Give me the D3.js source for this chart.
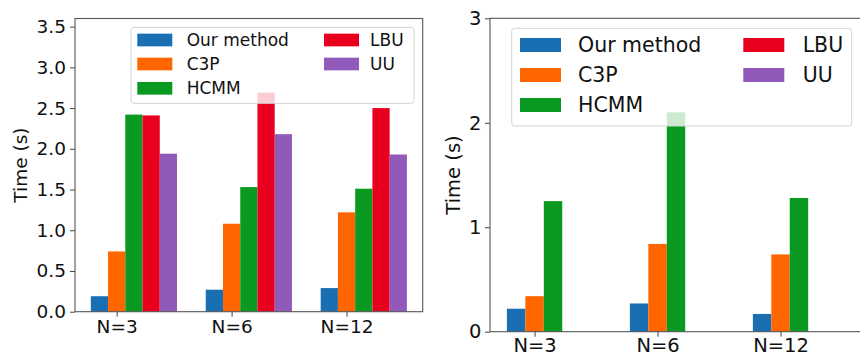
<!DOCTYPE html>
<html>
<head>
<meta charset="utf-8">
<script src="https://cdn.jsdelivr.net/npm/d3@7"></script>
<style>
  html, body { margin: 0; padding: 0; background: #fff; }
  svg { display: block; font-family: "DejaVu Sans", sans-serif; }
</style>
</head>
<body>
<svg id="chart" width="860" height="357"></svg>
<script>
// ---- data ----
const categories = ["N=3", "N=6", "N=12"];
const methods = ["Our method", "C3P", "HCMM", "LBU", "UU"];
const colors = ["#1a6fb3", "#ff6600", "#0a9a22", "#e8001e", "#9159b9"];

// left panel
const leftOur  = [0.19, 0.27, 0.29];
const leftC3P  = [0.74, 1.08, 1.22];
const leftHCMM = [2.42, 1.53, 1.51];
const leftLBU  = [2.41, 2.69, 2.50];
const leftUU   = [1.94, 2.18, 1.93];
const leftYTicks = [0, 0.5, 1.0, 1.5, 2.0, 2.5, 3.0, 3.5];

// right panel
const rightOur  = [0.22, 0.27, 0.17];
const rightC3P  = [0.34, 0.84, 0.74];
const rightHCMM = [1.25, 2.10, 1.28];
const rightLBU  = [0, 0, 0];
const rightUU   = [0, 0, 0];
const rightYTicks = [0, 1, 2, 3];

const svg = d3.select("#chart");
const barW = 0.15;

function panel(cfg) {
  const g = svg.append("g");
  const x = d3.scaleLinear().domain([-0.3625, 2.6625]).range([cfg.x0, cfg.x1]);
  const y = d3.scaleLinear().domain([0, cfg.ymax]).range([cfg.y1, cfg.y0]);

  // bars
  cfg.series.forEach((vals, si) => {
    g.append("g").selectAll("rect").data(vals).join("rect")
      .attr("x", (d, i) => x(i + (si - 1) * barW - barW / 2))
      .attr("width", x(barW) - x(0))
      .attr("y", d => y(d))
      .attr("height", d => y(0) - y(d))
      .attr("fill", colors[si]);
  });

  // axes
  const xa = g.append("g").attr("transform", `translate(0,${cfg.y1})`)
    .call(d3.axisBottom(x).tickValues([0, 1, 2]).tickFormat(i => categories[i])
      .tickSize(5).tickPadding(cfg.xPad).tickSizeOuter(0));
  const ya = g.append("g").attr("transform", `translate(${cfg.x0},0)`)
    .call(d3.axisLeft(y).tickValues(cfg.yTicks).tickFormat(cfg.yFmt)
      .tickSize(5).tickPadding(cfg.yPad).tickSizeOuter(0));
  [xa, ya].forEach(a => {
    a.select(".domain").remove();
    a.selectAll("line").attr("stroke", "#444");
    a.selectAll("text").attr("fill", "#111").style("font-size", cfg.fs + "px")
      .style("font-family", "'DejaVu Sans', sans-serif");
  });

  // frame
  g.append("rect").attr("x", cfg.x0).attr("y", cfg.y0)
    .attr("width", cfg.x1 - cfg.x0).attr("height", cfg.y1 - cfg.y0)
    .attr("fill", "none").attr("stroke", "#555").attr("stroke-width", 1.1);

  // y label
  g.append("text")
    .attr("transform", `translate(${cfg.labX},${(cfg.y0 + cfg.y1) / 2}) rotate(-90)`)
    .attr("text-anchor", "middle").attr("fill", "#111")
    .style("font-size", cfg.fs + "px").text("Time (s)");

  // legend
  const L = cfg.legend;
  const lg = g.append("g");
  lg.append("rect").attr("x", L.x).attr("y", L.y).attr("width", L.w).attr("height", L.h)
    .attr("rx", 3).attr("fill", "rgba(255,255,255,0.8)").attr("stroke", "#d4d4d4");
  methods.forEach((m, i) => {
    const col = i < 3 ? 0 : 1;
    const row = i < 3 ? i : i - 3;
    const cy = L.rowY[row];
    lg.append("rect").attr("x", L.patchX[col]).attr("y", cy - L.ph / 2)
      .attr("width", L.pw).attr("height", L.ph).attr("fill", colors[i]);
    lg.append("text").attr("x", L.textX[col]).attr("y", cy).attr("dy", "0.36em")
      .attr("fill", "#111").style("font-size", L.fs + "px").text(m);
  });
}

panel({
  x0: 75, x1: 422.7, y0: 18.5, y1: 311.7, ymax: 3.6,
  series: [leftOur, leftC3P, leftHCMM, leftLBU, leftUU],
  yTicks: leftYTicks, yFmt: d3.format(".1f"),
  fs: 18.5, xPad: 3.5, yPad: 4, labX: 26.5,
  legend: { x: 131, y: 27.3, w: 283, h: 76, rowY: [40, 64, 88.3],
            patchX: [137.3, 324], textX: [186.7, 370], pw: 35, ph: 12.7, fs: 17 }
});

panel({
  x0: 490, x1: 862, y0: 18.3, y1: 331.7, ymax: 3,
  series: [rightOur, rightC3P, rightHCMM, rightLBU, rightUU],
  yTicks: rightYTicks, yFmt: d3.format("d"),
  fs: 19.5, xPad: 1, yPad: 3.5, labX: 459.5,
  legend: { x: 511.7, y: 28.3, w: 340, h: 97.7, rowY: [45, 75, 105],
            patchX: [520, 743.3], textX: [578, 802.7], pw: 41, ph: 14, fs: 20.5 }
});
</script>
</body>
</html>
